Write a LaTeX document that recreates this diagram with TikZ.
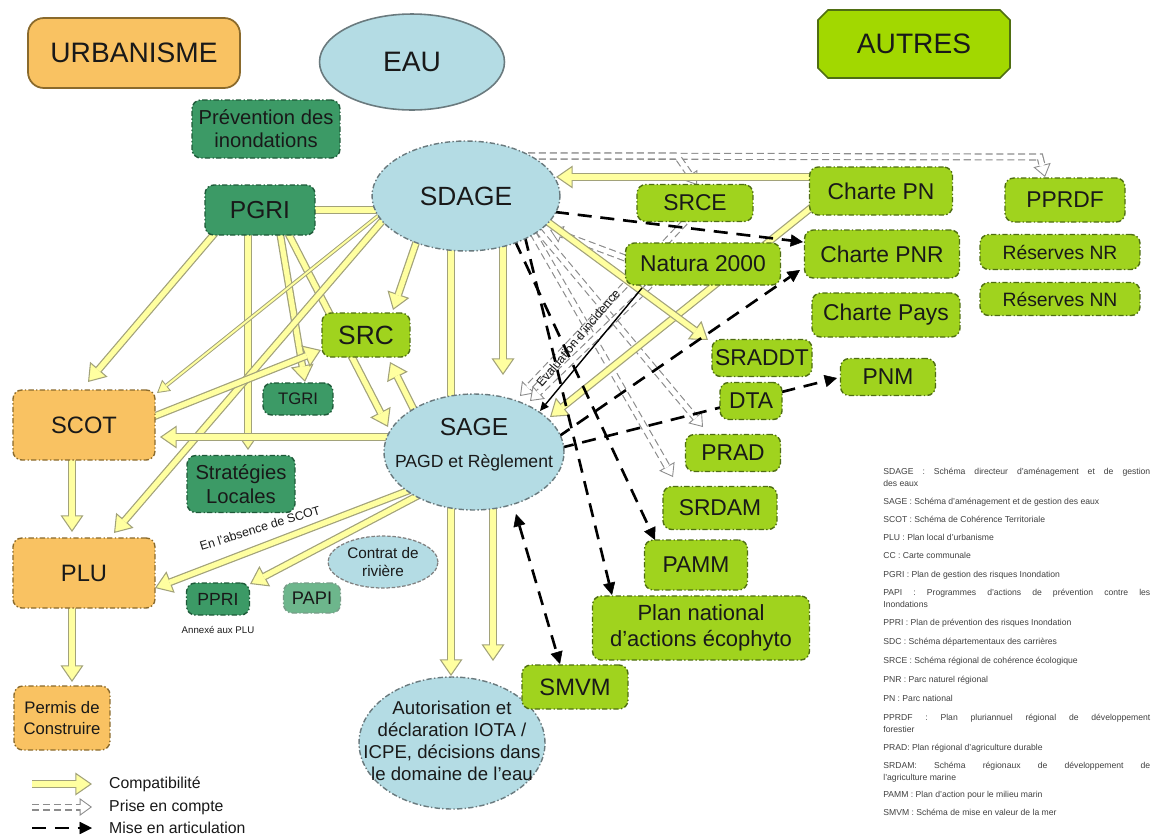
\documentclass[tikz,border=0pt]{standalone}
\usepackage{fontspec}
\setmainfont{Liberation Sans}
\usetikzlibrary{arrows.meta,shapes.geometric,shapes.misc}
\definecolor{corg}{HTML}{F9C262}
\definecolor{corgd}{HTML}{8A6A2C}
\definecolor{cblue}{HTML}{B4DCE4}
\definecolor{cblued}{HTML}{6A7A7E}
\definecolor{cdg}{HTML}{3C9A66}
\definecolor{cdgd}{HTML}{1E5A39}
\definecolor{cpapi}{HTML}{6DB68C}
\definecolor{clime}{HTML}{A0D31E}
\definecolor{climed}{HTML}{4F6E12}
\definecolor{cautres}{HTML}{A2D800}
\definecolor{cyel}{HTML}{FFFFA0}
\definecolor{cedge}{HTML}{A2A27A}
\definecolor{cpec}{HTML}{8C8C8C}
\pgfdeclarelayer{bg}
\pgfsetlayers{bg,main}
\newcommand\fz[2]{\fontsize{#1}{#2}\selectfont}
\newcommand\compat[1]{\draw[compout] #1; \draw[compin] #1;}
\newcommand\pec[1]{\draw[pecout] #1; \draw[pecin] #1;}
\begin{document}
\begin{tikzpicture}[x=0.02cm,y=-0.02cm,
  every node/.style={text=black!90},
  base/.style={rounded corners=5pt, align=center, inner sep=1pt, line width=0.8pt,
    dash pattern=on 3pt off 1.3pt on 0.8pt off 1.3pt},
  dg/.style={base, fill=cdg, draw=cdgd},
  lime/.style={base, fill=clime, draw=climed, font=\fz{13}{15}},
  org/.style={base, fill=corg, draw=corgd},
  ell/.style={ellipse, inner sep=0pt, fill=cblue, draw=cblued, line width=0.8pt,
    dash pattern=on 3pt off 1.3pt on 0.8pt off 1.3pt},
  compout/.style={draw=cedge, line width=4.4pt,
    -{Triangle[length=9.5pt,width=13pt,fill=cyel,line width=0.6pt]}},
  compin/.style={draw=cyel, line width=3pt, shorten >=8.8pt},
  pecout/.style={draw=cpec, line width=4pt, dash pattern=on 4pt off 2.2pt,
    -{Triangle[length=7pt,width=10pt,fill=white,line width=0.5pt]}},
  pecin/.style={draw=white, line width=2.7pt, shorten >=6.5pt},
  mise/.style={draw=black, line width=1.5pt, dash pattern=on 8pt off 5pt,
    -{Triangle[length=7pt,width=7pt,line width=0.3pt]}},
  leg/.style={anchor=north west, inner sep=0pt, text width=5.34cm, align=justify,
    font=\fz{4.9}{6.8}, text=black!75}
]
\useasboundingbox (0,0) rectangle (1156,836);

% ---------- title nodes
\node[org, solid, rounded corners=9pt, line width=1pt, minimum width=4.24cm,
  minimum height=1.4cm, font=\fz{16}{19}] (urb) at (134,53) {URBANISME};
\node[ellipse, fill=cblue, draw=cblued, line width=0.9pt, minimum width=3.7cm,
  minimum height=1.92cm, font=\fz{16}{19}] (eau) at (412,62) {EAU};
\node[chamfered rectangle, chamfered rectangle xsep=0.1cm, chamfered rectangle ysep=0.1cm,
  fill=cautres, draw=climed, line width=0.9pt, minimum width=3.84cm,
  minimum height=1.36cm, font=\fz{16}{19}] (autres) at (914,44) {AUTRES};

% ---------- left / centre nodes
\node[dg, minimum width=2.96cm, minimum height=1.16cm, font=\fz{11.5}{13}] (prev) at (266,129) {Prévention des\\inondations};
\node[ell, minimum width=3.76cm, minimum height=2.2cm, font=\fz{15}{18}] (sdage) at (466,196) {SDAGE};
\node[dg, minimum width=2.2cm, minimum height=1.0cm, font=\fz{14}{16}] (pgri) at (260,210) {PGRI};
\node[lime, minimum width=1.76cm, minimum height=0.88cm, font=\fz{15}{17}] (src) at (366,335) {SRC};
\node[dg, minimum width=1.4cm, minimum height=0.64cm, font=\fz{9.5}{11}] (tgri) at (298,399) {TGRI};
\node[org, minimum width=2.84cm, minimum height=1.4cm, font=\fz{13.5}{16}] (scot) at (84,425) {SCOT};
\node[ell, minimum width=3.6cm, minimum height=2.32cm] (sage) at (474,452) {};
\node[font=\fz{14}{16}] (sagetxt) at (474,427) {SAGE};
\node[font=\fz{10}{12}] (pagd) at (474,463) {PAGD et Règlement};
\node[dg, minimum width=2.16cm, minimum height=1.14cm, font=\fz{11.5}{13.5}] (strat) at (241,484) {Stratégies\\Locales};
\node[org, minimum width=2.84cm, minimum height=1.4cm, font=\fz{13.5}{16}] (plu) at (84,573) {PLU};
\node[ellipse, inner sep=0pt, fill=cblue, draw=gray, line width=0.7pt, dash pattern=on 2pt off 1pt,
  minimum width=2.2cm, minimum height=1.04cm] (contrat) at (383,562) {};
\node[align=center, font=\fz{8.7}{9.8}] (contrattxt) at (383,562) {Contrat de\\rivière};
\node[dg, minimum width=1.26cm, minimum height=0.64cm, font=\fz{10}{12}] (ppri) at (218,599) {PPRI};
\node[font=\fz{5.5}{6.5}] (annexe) at (218,630) {Annexé aux PLU};
\node[dg, fill=cpapi, draw=cdgd!60, minimum width=1.14cm, minimum height=0.6cm, font=\fz{10.4}{12}] (papi) at (312,598) {PAPI};
\node[org, minimum width=1.92cm, minimum height=1.28cm, font=\fz{9.5}{12}] (permis) at (62,718) {Permis de\\Construire};
\node[ell, minimum width=3.72cm, minimum height=2.64cm] (autor) at (452,743) {};
\node[align=center, font=\fz{10.6}{12.4}] (autortxt) at (452,741) {Autorisation et\\déclaration IOTA /\\ICPE, décisions dans\\le domaine de l’eau};

% ---------- right nodes
\node[lime, minimum width=2.12cm, minimum height=0.88cm, font=\fz{13.5}{16}] (smvm) at (575,687) {SMVM};
\node[lime, minimum width=4.34cm, minimum height=1.28cm, font=\fz{12.5}{14.5}] (eco) at (701,628) {Plan national\\d’actions écophyto};
\node[lime, minimum width=2.06cm, minimum height=1.0cm] (pamm) at (696,565) {PAMM};
\node[lime, minimum width=2.28cm, minimum height=0.86cm] (srdam) at (720,508) {SRDAM};
\node[lime, minimum width=1.9cm, minimum height=0.74cm] (prad) at (733,453) {PRAD};
\node[lime, minimum width=1.24cm, minimum height=0.74cm] (dta) at (751,401) {DTA};
\node[lime, minimum width=2.0cm, minimum height=0.74cm] (sraddt) at (762,358) {SRADDT};
\node[lime, minimum width=1.9cm, minimum height=0.74cm] (pnm) at (888,377) {PNM};
\node[lime, minimum width=3.1cm, minimum height=0.84cm] (natura) at (703,264) {Natura 2000};
\node[lime, minimum width=2.32cm, minimum height=0.74cm] (srce) at (695,203) {SRCE};
\node[lime, minimum width=2.86cm, minimum height=0.96cm] (chpn) at (881,191) {Charte PN};
\node[lime, minimum width=3.1cm, minimum height=0.96cm] (chpnr) at (882,254) {Charte PNR};
\node[lime, minimum width=2.96cm, minimum height=0.88cm] (chpays) at (886,315) {Charte Pays};
\node[lime, minimum width=2.4cm, minimum height=0.88cm] (pprdf) at (1065,200) {PPRDF};
\node[lime, minimum width=3.2cm, minimum height=0.7cm, font=\fz{11}{13}] (resnr) at (1060,252) {Réserves NR};
\node[lime, minimum width=3.2cm, minimum height=0.66cm, font=\fz{11}{13}] (resnn) at (1060,299) {Réserves NN};

% ---------- labels on connectors
\node[rotate=50, font=\fz{7}{8}] (evalinc) at (578,338) {Evaluation d’incidence};
\node[rotate=17, font=\fz{7}{8}] (absence) at (260,528) {En l’absence de SCOT};

% ---------- legend (bottom left)
\coordinate (lc1) at (32,784); \coordinate (lc2) at (92,784);
\coordinate (lp1) at (32,807); \coordinate (lp2) at (92,807);
\coordinate (lm1) at (32,828); \coordinate (lm2) at (92,828);
\node[anchor=west, font=\fz{9}{10}] (lt1) at (103,784) {Compatibilité};
\node[anchor=west, font=\fz{9}{10}] (lt2) at (103,807) {Prise en compte};
\node[anchor=west, font=\fz{9}{10}] (lt3) at (103,828) {Mise en articulation};

% ---------- legend (right)
\node[leg] (g1) at (883,468) {SDAGE : Schéma directeur d’aménagement et de gestion\linebreak des eaux};
\node[leg] (g2) at (883,498) {SAGE : Schéma d’aménagement et de gestion des eaux};
\node[leg] (g3) at (883,516) {SCOT : Schéma de Cohérence Territoriale};
\node[leg] (g4) at (883,534) {PLU : Plan local d’urbanisme};
\node[leg] (g5) at (883,552) {CC : Carte communale};
\node[leg] (g6) at (883,571) {PGRI : Plan de gestion des risques Inondation};
\node[leg] (g7) at (883,589) {PAPI : Programmes d’actions de prévention contre les\linebreak Inondations};
\node[leg] (g8) at (883,619) {PPRI : Plan de prévention des risques Inondation};
\node[leg] (g9) at (883,638) {SDC : Schéma départementaux des carrières};
\node[leg] (g10) at (883,657) {SRCE : Schéma régional de cohérence écologique};
\node[leg] (g11) at (883,676) {PNR : Parc naturel régional};
\node[leg] (g12) at (883,695) {PN : Parc national};
\node[leg] (g13) at (883,714) {PPRDF : Plan pluriannuel régional de développement\linebreak forestier};
\node[leg] (g14) at (883,744) {PRAD: Plan régional d’agriculture durable};
\node[leg] (g15) at (883,762) {SRDAM: Schéma régionaux de développement de\linebreak l’agriculture marine};
\node[leg] (g16) at (883,791) {PAMM : Plan d’action pour le milieu marin};
\node[leg] (g17) at (883,809) {SMVM : Schéma de mise en valeur de la mer};

% ---------- connectors
\begin{pgfonlayer}{bg}
% prise en compte
\pec{([shift={(62,-40)}]sdage.center) -- ([shift={(-25,-43)}]pprdf.center) -- ([shift={(-20,-23)}]pprdf.center)}
\pec{([shift={(62,-40)}]sdage.center) -- ([shift={(-18,-47)}]srce.center) -- ([shift={(2,-18)}]srce.center)}
\pec{([shift={(72,34)}]sdage.center) -- ([shift={(-30,-26)}]prad.center)}
\pec{([shift={(67,37)}]sdage.center) -- ([shift={(-47,-31)}]srdam.center)}
\pec{([shift={(-10,19)}]srce.center) -- ([shift={(46,-56)}]sage.center)}
\pec{([shift={(-53,21)}]natura.center) -- ([shift={(56,-51)}]sage.center)}
\pec{([shift={(-78,-6)}]natura.center) -- ([shift={(84,34)}]sdage.center)}
\pec{(lp1) -- (lp2)}
% compatibilite
\compat{([shift={(-45,23)}]pgri.center) -- ([shift={(4,-43)}]scot.center)}
\compat{([shift={(-12,23)}]pgri.center) -- ([shift={(7,-34)}]strat.center)}
\compat{([shift={(20,23)}]pgri.center) -- ([shift={(7,-17)}]tgri.center)}
\compat{([shift={(28,23)}]pgri.center) -- ([shift={(-86,-25)}]sage.center)}
\draw[compout,-] ([shift={(-90,14)}]sdage.center) -- ([shift={(50,0)}]pgri.center);
\draw[compin,shorten >=0pt] ([shift={(-90,14)}]sdage.center) -- ([shift={(50,0)}]pgri.center);
\compat{([shift={(-83,24)}]sdage.center) -- ([shift={(30,-40)}]plu.center)}
\compat{([shift={(-49,44)}]sdage.center) -- ([shift={(27,-25)}]src.center)}
\compat{([shift={(37,48)}]sdage.center) -- ([shift={(29,-77)}]sage.center)}
\compat{([shift={(-15,52)}]sdage.center) -- ([shift={(-1,-67)}]autor.center)}
\compat{([shift={(19,54)}]sage.center) -- ([shift={(41,-82)}]autor.center)}
\compat{([shift={(-85,-15)}]sage.center) -- ([shift={(76,12)}]scot.center)}
\compat{([shift={(-60,-42)}]sage.center) -- ([shift={(24,27)}]src.center)}
\compat{([shift={(-64,38)}]sage.center) -- ([shift={(71,15)}]plu.center)}
\compat{([shift={(-55,43)}]sage.center) -- ([shift={(32,-15)}]ppri.center)}
\compat{([shift={(66,-7)}]scot.center) -- ([shift={(-45,15)}]src.center)}
\compat{([shift={(-12,33)}]scot.center) -- ([shift={(-12,-41)}]plu.center)}
\compat{([shift={(-12,33)}]plu.center) -- ([shift={(10,-36)}]permis.center)}
\compat{([shift={(-69,-14)}]chpn.center) -- ([shift={(90,-19)}]sdage.center)}
\compat{([shift={(-69,16)}]chpn.center) -- ([shift={(76,-35)}]sage.center)}
\compat{([shift={(82,26)}]sdage.center) -- ([shift={(-54,-18)}]sraddt.center)}
\draw[cedge, line width=2.2pt, -{Triangle[length=7pt,width=8pt,fill=cyel,line width=0.5pt]}]
  ([shift={(-87,19)}]sdage.center) -- ([shift={(73,-32)}]scot.center);
\draw[cyel, line width=1.1pt, shorten >=6.5pt]
  ([shift={(-87,19)}]sdage.center) -- ([shift={(73,-32)}]scot.center);
\compat{(lc1) -- (lc2)}
% evaluation d'incidence
\draw[black, line width=0.8pt, -{Triangle[length=5pt,width=4.5pt]}]
  ([shift={(-61,24)}]natura.center) -- ([shift={(66,-41)}]sage.center);
% mise en articulation
\draw[mise] ([shift={(89,16)}]sdage.center) -- ([shift={(-79,-12)}]chpnr.center);
\draw[mise] ([shift={(84,-15)}]sage.center) -- ([shift={(-82,16)}]chpnr.center);
\draw[mise] ([shift={(86,-4)}]sage.center) -- ([shift={(-51,1)}]pnm.center);
\draw[mise] ([shift={(49,45)}]sdage.center) -- ([shift={(-41,-25)}]pamm.center);
\draw[mise] ([shift={(59,41)}]sdage.center) -- ([shift={(-89,-33)}]eco.center);
\draw[mise, {Triangle[length=7pt,width=7pt,line width=0.3pt]}-{Triangle[length=7pt,width=7pt,line width=0.3pt]}]
  ([shift={(42,62)}]sage.center) -- ([shift={(-15,-23)}]smvm.center);
\draw[mise] (lm1) -- (lm2);
\end{pgfonlayer}
\end{tikzpicture}
\end{document}
